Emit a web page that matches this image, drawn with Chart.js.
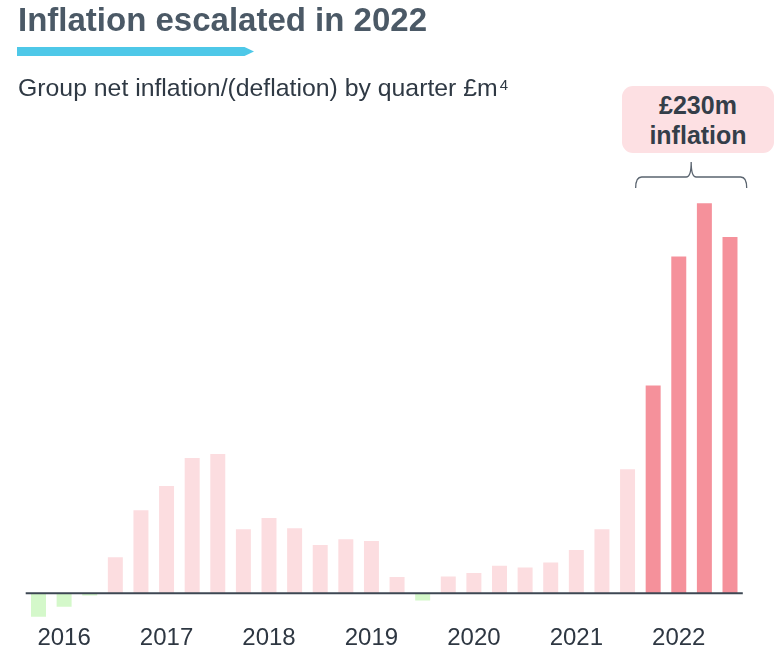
<!DOCTYPE html>
<html>
<head>
<meta charset="utf-8">
<script src="https://cdn.jsdelivr.net/npm/chart.js@4"></script>
<style>
  html, body { margin: 0; padding: 0; background: #ffffff; }
  #wrap { position: relative; width: 780px; height: 670px; overflow: hidden; font-family: "Liberation Sans", Arial, sans-serif; }
  #c { position: absolute; left: 0; top: 0; }
  .title { position: absolute; left: 18px; top: 3px; font-size: 33px; line-height: 33px; font-weight: bold; color: #4b5966; white-space: nowrap; }
  .rule { position: absolute; left: 17px; top: 47px; width: 237px; height: 9px; background: #4ec8e8; clip-path: polygon(0 0, 96% 0, 100% 50%, 96% 100%, 0 100%); }
  .sub { position: absolute; left: 18px; top: 76px; font-size: 24.8px; line-height: 24px; color: #2f3944; white-space: nowrap; }
  .sub .sup { font-size: 15px; position: relative; top: -6px; margin-left: 2px; }
  .note { position: absolute; left: 622px; top: 86px; width: 152px; height: 63px; padding-top: 4px; border-radius: 11px; background: #fde0e3; text-align: center; font-size: 25px; line-height: 30px; font-weight: bold; color: #343e49; }
</style>
</head>
<body>
<div id="wrap">
  <canvas id="c" width="780" height="670"></canvas>
  <div class="title">Inflation escalated in 2022</div>
  <div class="rule"></div>
  <div class="sub">Group net inflation/(deflation) by quarter £m<span class="sup">4</span></div>
  <div class="note">£230m<br>inflation</div>
</div>
<script>
// ---- data ----
const years = ['2016', '2017', '2018', '2019', '2020', '2021', '2022'];
const quarters = ['Q1', 'Q2', 'Q3', 'Q4'];
const netInflation = [
  -4.2, -2.4, -0.4, 6.4,     // 2016
  14.8, 19.1, 24.1, 24.8,    // 2017
  11.4, 13.4, 11.6, 8.6,     // 2018
  9.6, 9.3, 2.9, -1.3,       // 2019
  3.0, 3.6, 4.9, 4.6,        // 2020
  5.5, 7.7, 11.4, 22.1,      // 2021
  37.0, 60.0, 69.5, 63.5     // 2022
];
const highlightYear = '2022';

// ---- build ----
const labels = [];
years.forEach(y => quarters.forEach(q => labels.push(y + ' ' + q)));

const colDeflation = '#d4f8ca';
const colInflation = '#fcdde0';
const colHighlight = '#f5919b';
const colors = netInflation.map((v, i) => {
  if (v < 0) return colDeflation;
  if (labels[i].startsWith(highlightYear)) return colHighlight;
  return colInflation;
});

const zeroLine = {
  id: 'zeroLine',
  afterDatasetsDraw(chart) {
    const { ctx, chartArea, scales } = chart;
    const y = scales.y.getPixelForValue(0);
    ctx.save();
    ctx.strokeStyle = '#3d4753';
    ctx.lineWidth = 2;
    ctx.beginPath();
    ctx.moveTo(chartArea.left, y);
    ctx.lineTo(chartArea.right, y);
    ctx.stroke();
    ctx.restore();
  }
};

const brace = {
  id: 'brace',
  afterDraw(chart) {
    const { ctx, scales } = chart;
    const idx = labels.map((l, i) => l.startsWith(highlightYear) ? i : -1).filter(i => i >= 0);
    const x0 = scales.x.getPixelForValue(idx[0]) - 17.5;
    const x1 = scales.x.getPixelForValue(idx[idx.length - 1]) + 16.7;
    const xm = (x0 + x1) / 2;
    const yEnd = 188, yMid = 177, yTip = 162;
    ctx.save();
    ctx.strokeStyle = '#5a646f';
    ctx.lineWidth = 1.3;
    ctx.beginPath();
    ctx.moveTo(x0, yEnd);
    ctx.quadraticCurveTo(x0, yMid, x0 + 6, yMid);
    ctx.lineTo(xm - 5, yMid);
    ctx.quadraticCurveTo(xm, yMid, xm, yTip);
    ctx.quadraticCurveTo(xm, yMid, xm + 5, yMid);
    ctx.lineTo(x1 - 6, yMid);
    ctx.quadraticCurveTo(x1, yMid, x1, yEnd);
    ctx.stroke();
    ctx.restore();
  }
};

new Chart(document.getElementById('c'), {
  type: 'bar',
  data: {
    labels: labels,
    datasets: [{
      data: netInflation,
      backgroundColor: colors,
      borderWidth: 0,
      barPercentage: 0.585,
      categoryPercentage: 1.0
    }]
  },
  options: {
    responsive: false,
    animation: false,
    devicePixelRatio: 1,
    layout: { padding: { left: 25.7, right: 37.2, top: 144.3, bottom: 21.9 } },
    plugins: { legend: { display: false }, tooltip: { enabled: false }, title: { display: false } },
    scales: {
      y: { display: false, min: -5, max: 80 },
      x: {
        grid: { display: false },
        border: { display: false },
        ticks: {
          autoSkip: false,
          maxRotation: 0,
          padding: -5,
          color: '#2e3742',
          font: { family: '"Liberation Sans", Arial, sans-serif', size: 24 },
          callback: function (val, i) {
            return i % 4 === 1 ? labels[i].split(' ')[0] : '';
          }
        }
      }
    }
  },
  plugins: [zeroLine, brace]
});
</script>
</body>
</html>
